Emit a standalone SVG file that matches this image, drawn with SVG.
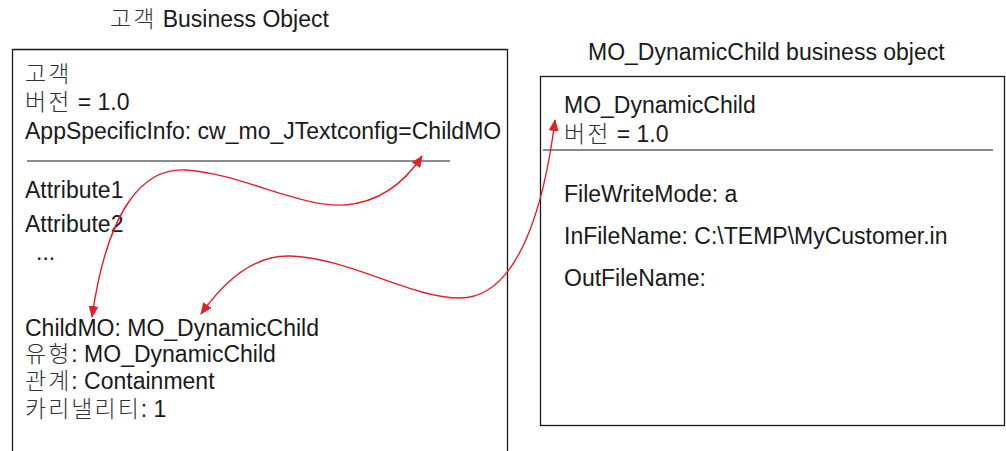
<svg xmlns="http://www.w3.org/2000/svg" width="1006" height="451" viewBox="0 0 1006 451">
  <style>
    text { font-family: "Liberation Sans", "Noto Sans CJK KR", sans-serif; font-size: 23px; fill: #1a1a1a; }
    .ko { font-family: "Noto Sans CJK KR", sans-serif; font-weight: 300; fill: #333333; letter-spacing: 2px; }
    .box { fill: none; stroke: #1a1a1a; stroke-width: 1.3; }
    .rule { stroke: #1a1a1a; stroke-width: 1.2; }
    .link { fill: none; stroke: #e3202a; stroke-width: 1.4; marker-start: url(#head); marker-end: url(#head); }
  </style>
  <defs>
    <marker id="head" viewBox="0 0 12 10" refX="11" refY="5" markerWidth="12" markerHeight="10" markerUnits="userSpaceOnUse" orient="auto-start-reverse">
      <path d="M0,0 L12,5 L0,10 Z" fill="#e3202a"/>
    </marker>
  </defs>

  <!-- customer business object -->
  <g id="customer">
    <text x="110" y="27"><tspan class="ko">고객</tspan> Business Object</text>
    <path class="box" d="M12.5,451 V49.5 H507.5 V451"/>
    <text x="25" y="82"><tspan class="ko">고객</tspan></text>
    <text x="25" y="110"><tspan class="ko">버전</tspan> = 1.0</text>
    <text x="25" y="139">AppSpecificInfo: cw_mo_JTextconfig=ChildMO</text>
    <line class="rule" x1="27" y1="161" x2="450" y2="161"/>
    <text x="25" y="198">Attribute1</text>
    <text x="25" y="232">Attribute2</text>
    <text x="36" y="260">...</text>
    <text x="25" y="336">ChildMO: MO_DynamicChild</text>
    <text x="25" y="362"><tspan class="ko">유형</tspan>: MO_DynamicChild</text>
    <text x="25" y="389"><tspan class="ko">관계</tspan>: Containment</text>
    <text x="25" y="417"><tspan class="ko">카리낼리티</tspan>: 1</text>
  </g>

  <!-- child business object -->
  <g id="dynamic-child">
    <text x="588" y="60">MO_DynamicChild business object</text>
    <rect class="box" x="540.5" y="76.5" width="464" height="349"/>
    <text x="564" y="113">MO_DynamicChild</text>
    <text x="564" y="142"><tspan class="ko">버전</tspan> = 1.0</text>
    <line class="rule" x1="543" y1="150" x2="993" y2="150"/>
    <text x="564" y="202">FileWriteMode: a</text>
    <text x="564" y="244">InFileName: C:\TEMP\MyCustomer.in</text>
    <text x="564" y="286">OutFileName:</text>
  </g>

  <!-- links -->
  <g id="connectors">
    <path class="link" d="M92,317 C108,205 145,168 185,170 C240,173 300,208 345,205 C380,202 405,182 422,156"/>
    <path class="link" d="M201,314 C225,280 255,255 290,256 C350,258 410,298 460,298 C520,298 545,200 555,120"/>
  </g>
</svg>
